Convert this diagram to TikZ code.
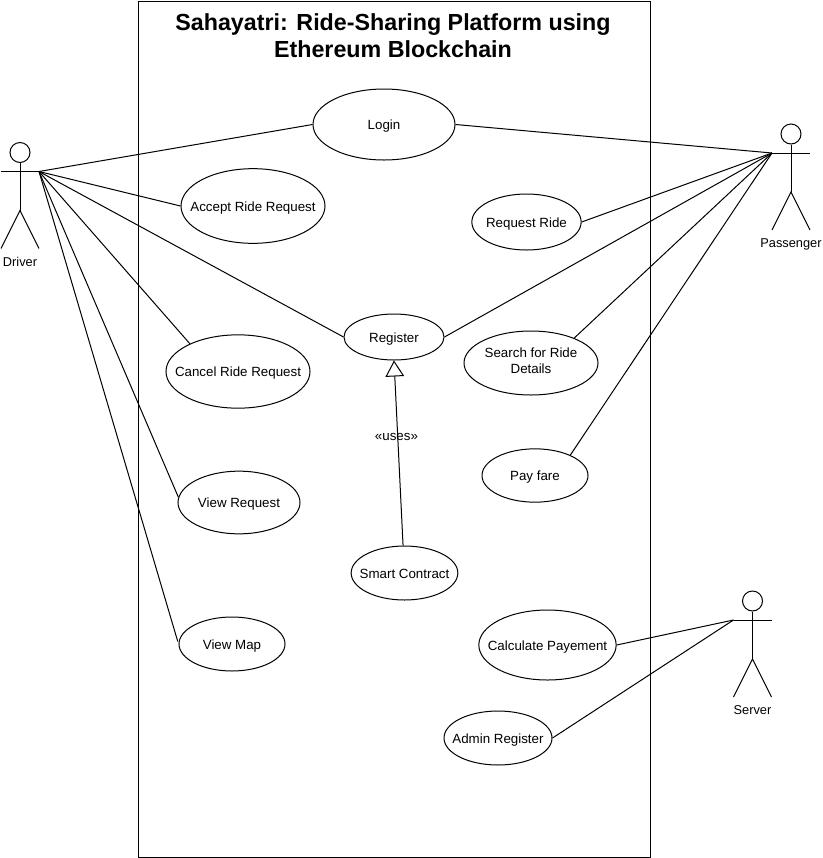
\documentclass[tikz,border=0pt]{standalone}
\usepackage{fontspec}
\setmainfont{Liberation Sans}
\usetikzlibrary{arrows.meta,shapes.geometric}

% stick figure: name, x of body, y of arms, label
\newcommand{\actorfig}[4]{
\coordinate (#1_left) at (#2-19,#3);
\coordinate (#1_right) at (#2+19,#3);
\node[head] (#1_head) at (#2,#3-19) {};
\coordinate (#1_hip) at (#2,#3+39);
\coordinate (#1_lfoot) at (#2-19,#3+77);
\coordinate (#1_rfoot) at (#2+19,#3+77);
\node[actorlabel] (#1) at (#2,#3+88.5) {#4};
\draw (#1_left) -- (#1_right);
\draw (#1_head) -- (#1_hip);
\draw (#1_lfoot) -- (#1_hip) -- (#1_rfoot);
}

\begin{document}
\begin{tikzpicture}
[x=0.75pt,y=-0.75pt,line width=0.75pt,font=\fontsize{10}{12}\selectfont]
\tikzstyle{usecase}=[ellipse, draw, inner ysep=0pt, inner xsep=-30pt, align=center, text height=7.5pt, text depth=0pt]
\tikzstyle{head}=[circle, draw, inner sep=0pt, minimum size=15pt]
\tikzstyle{actorlabel}=[inner sep=0pt, text height=9pt, text depth=0pt, font=\fontsize{9.6}{11.5}\selectfont]
\tikzstyle{frame}=[draw, inner sep=0pt, minimum width=384pt, minimum height=642pt]
\tikzstyle{generalize}=[-{Triangle[open,length=12pt,width=14pt]}]

\useasboundingbox (0,0) rectangle (823,858);

\node[frame] (platform) at (394,429) {};
\node[inner sep=0pt, align=center, font=\fontsize{17.45}{20.3}\selectfont\bfseries] (title) at (393,35.5) {Sahayatri: Ride-Sharing Platform using\\Ethereum Blockchain};

\actorfig{driver}{20}{171.5}{Driver}
\actorfig{passenger}{791}{153}{Passenger}
\actorfig{server}{752.5}{620}{Server}

\node[usecase, minimum width=106.5pt, minimum height=53.25pt] (login) at (384,124.5) {Login};
\node[usecase, minimum width=108pt, minimum height=56pt] (accept) at (253,206) {Accept Ride Request};
\node[usecase, minimum width=82pt, minimum height=42pt] (request) at (526.5,222) {Request Ride};
\node[usecase, minimum width=75pt, minimum height=34.5pt] (register) at (394,337) {Register};
\node[usecase, minimum width=100.5pt, minimum height=48pt, text height=15pt] (search) at (531,363) {Search for Ride\\Details};
\node[usecase, minimum width=108pt, minimum height=55pt] (cancel) at (238,371.5) {Cancel Ride Request};
\node[usecase, minimum width=79.5pt, minimum height=40pt] (payfare) at (535,475.5) {Pay fare};
\node[usecase, minimum width=91.5pt, minimum height=47pt] (viewrequest) at (239,502.5) {View Request};
\node[usecase, minimum width=80pt, minimum height=40.5pt] (smart) at (404.5,573) {Smart Contract};
\node[usecase, minimum width=79.5pt, minimum height=40.5pt] (viewmap) at (232,644) {View Map};
\node[usecase, minimum width=103pt, minimum height=52.5pt] (calculate) at (547.5,645) {Calculate Payement};
\node[usecase, minimum width=81pt, minimum height=40.5pt] (admin) at (498,738) {Admin Register};

\path
	(driver_right) edge (login.west)
	(driver_right) edge (accept.west)
	(driver_right) edge (register.west)
	(driver_right) edge (cancel.150)
	(driver_right) edge (viewrequest.175)
	(driver_right) edge [shorten >=2pt] (viewmap.west)
	(passenger_left) edge (login.east)
	(passenger_left) edge (request.east)
	(passenger_left) edge (register.east)
	(passenger_left) edge (search.30)
	(passenger_left) edge (payfare.30)
	(server_left) edge (calculate.east)
	(server_left) edge (admin.east)
	(smart.93) edge [generalize] node [pos=0.585, xshift=-1pt, inner sep=0pt] (uses) {«uses»} (register.south)
	;
\end{tikzpicture}
\end{document}
